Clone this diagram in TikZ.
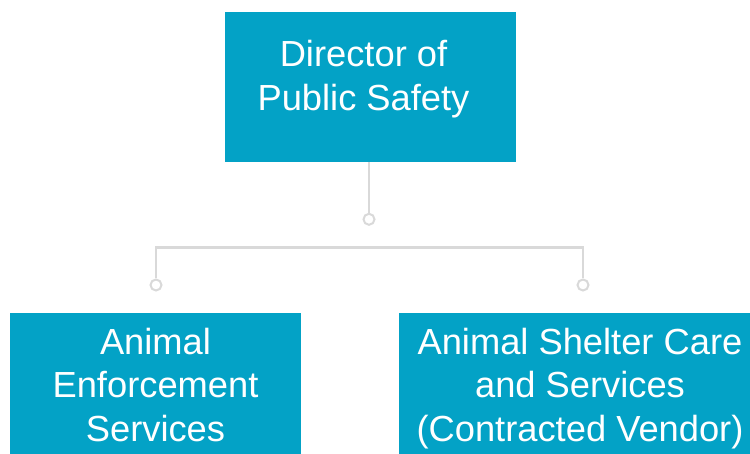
\documentclass[tikz,border=0pt]{standalone}
\usepackage{fontspec}
\setmainfont{Liberation Sans}
\definecolor{boxblue}{RGB}{3,162,198}
\definecolor{linegray}{RGB}{217,217,217}
\begin{document}
\begin{tikzpicture}[x=1pt,y=-1pt,
  orgbox/.style={draw=none,fill=boxblue,rectangle,inner sep=0pt,anchor=north west},
  orgtext/.style={text=white,align=center,anchor=north,inner sep=0pt,
    font=\fontsize{36.3}{43.3}\selectfont},
  knob/.style={circle,draw=linegray,fill=white,line width=2pt,minimum size=11pt,inner sep=0pt},
  link/.style={draw=linegray,line width=2.8pt}]
\useasboundingbox (0,0) rectangle (750,454);
\clip (0,0) rectangle (750,454);
% boxes
\node[orgbox,minimum width=291pt,minimum height=150pt] (dir) at (225,12) {};
\node[orgbox,minimum width=291pt,minimum height=160pt] (aes) at (10,313) {};
\node[orgbox,minimum width=368pt,minimum height=160pt] (asc) at (399,313) {};
% labels (first line baseline sits 28pt below the node top)
\node[orgtext] (dirlbl) at (363.5,38.7) {\rule{0pt}{28pt}Director of\\Public Safety};
\node[orgtext] (aeslbl) at (155.5,326.3) {\rule{0pt}{28pt}Animal\\Enforcement\\Services};
\node[orgtext] (asclbl) at (580,326.3) {\rule{0pt}{28pt}Animal Shelter Care\\and Services\\(Contracted Vendor)};
% connector knobs
\node[knob] (k0) at (369,219.3) {};
\node[knob] (k1) at (156,285) {};
\node[knob] (k2) at (583,285) {};
\coordinate (bar) at (369,247.7);
% connectors
\draw[link] (dir.south -| k0) -- (k0.north);
\draw[link] (k1.north) |- (bar) -| (k2.north);
\end{tikzpicture}
\end{document}
